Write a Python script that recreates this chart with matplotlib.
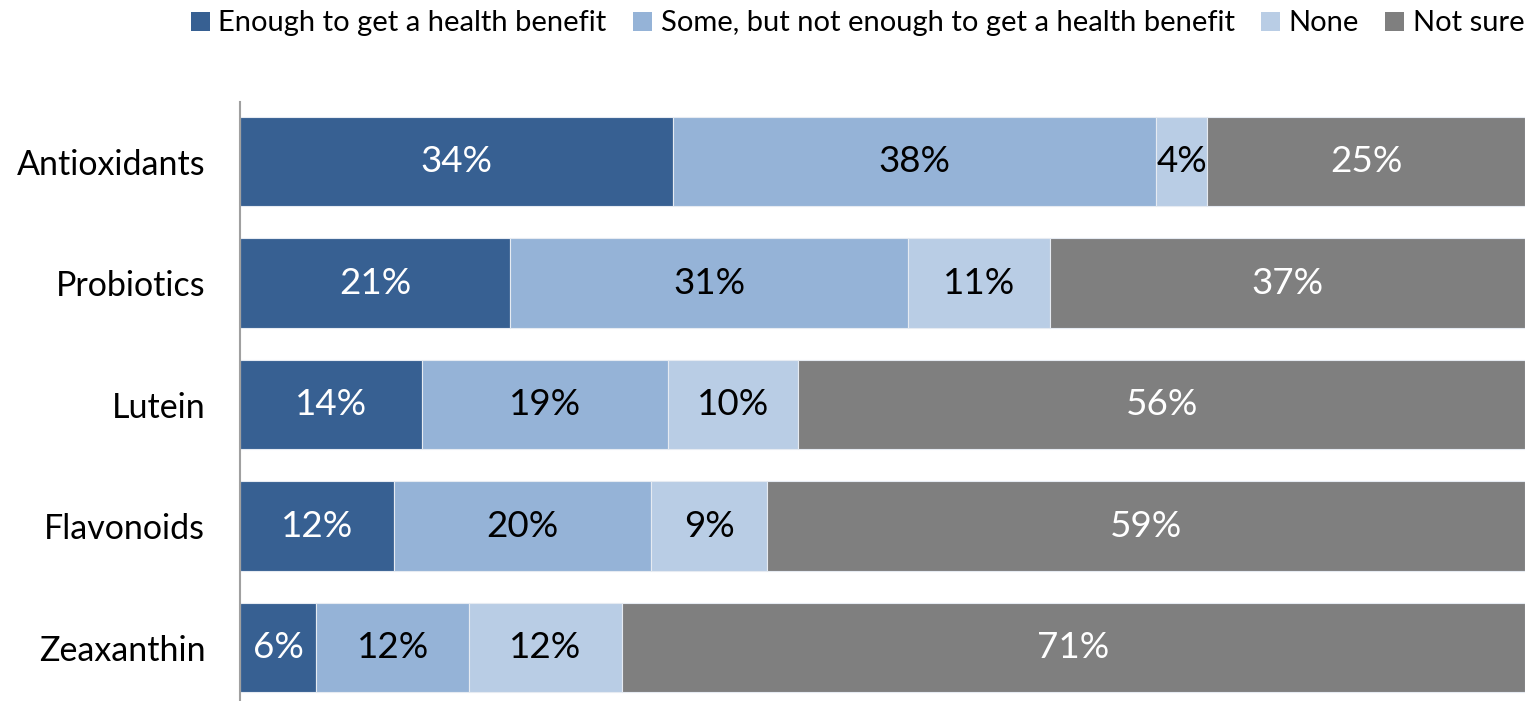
import numpy as np
import matplotlib.pyplot as plt
from matplotlib.patches import Patch

plt.rcParams['font.family'] = ['Lato', 'DejaVu Sans']

# Survey data (percent of respondents)
categories = ['Antioxidants', 'Probiotics', 'Lutein', 'Flavonoids', 'Zeaxanthin']
series_names = ['Enough to get a health benefit',
                'Some, but not enough to get a health benefit',
                'None', 'Not sure']
enough = [34, 21, 14, 12, 6]
some = [38, 31, 19, 20, 12]
none = [4, 11, 10, 9, 12]
not_sure = [25, 37, 56, 59, 71]

colors = ['#376092', '#95B3D7', '#B9CDE5', '#7F7F7F']
text_colors = ['white', 'black', 'black', 'white']

values = np.array([enough, some, none, not_sure], dtype=float)
# each row is a 100% stacked bar
shares = values / values.sum(axis=0) * 100

fig = plt.figure(figsize=(15.34, 7.01), dpi=100)
ax = fig.add_axes([240 / 1534, 0, 1285 / 1534, 599 / 701])

y = np.arange(len(categories))
left = np.zeros(len(categories))
for i in range(4):
    ax.barh(y, shares[i], left=left, height=0.74, color=colors[i],
            edgecolor='#E6EBF2', linewidth=0.8, label=series_names[i])
    for j in range(len(categories)):
        ax.text(left[j] + shares[i][j] / 2, y[j], f'{int(values[i][j])}%',
                ha='center', va='center', fontsize=26.5, color=text_colors[i])
    left += shares[i]

ax.set_xlim(0, 100)
ax.set_ylim(len(categories) - 1 + 0.44, -0.49)
ax.set_yticks(y)
ax.set_yticklabels(categories, fontsize=24.5)
ax.tick_params(axis='y', length=0, pad=25)
ax.set_xticks([])
for s in ['top', 'right', 'bottom']:
    ax.spines[s].set_visible(False)
ax.spines['left'].set_color('#A0A0A0')
ax.spines['left'].set_linewidth(1.5)

handles = [Patch(facecolor=c, edgecolor='none') for c in colors]
fig.legend(handles, series_names, loc='upper right', ncol=4,
           bbox_to_anchor=(1542 / 1534, 1.01), frameon=False, fontsize=21,
           handlelength=0.65, handleheight=0.65, handletextpad=0.3,
           columnspacing=0.9, borderaxespad=0.2)

fig.savefig('out.png', dpi=100)
